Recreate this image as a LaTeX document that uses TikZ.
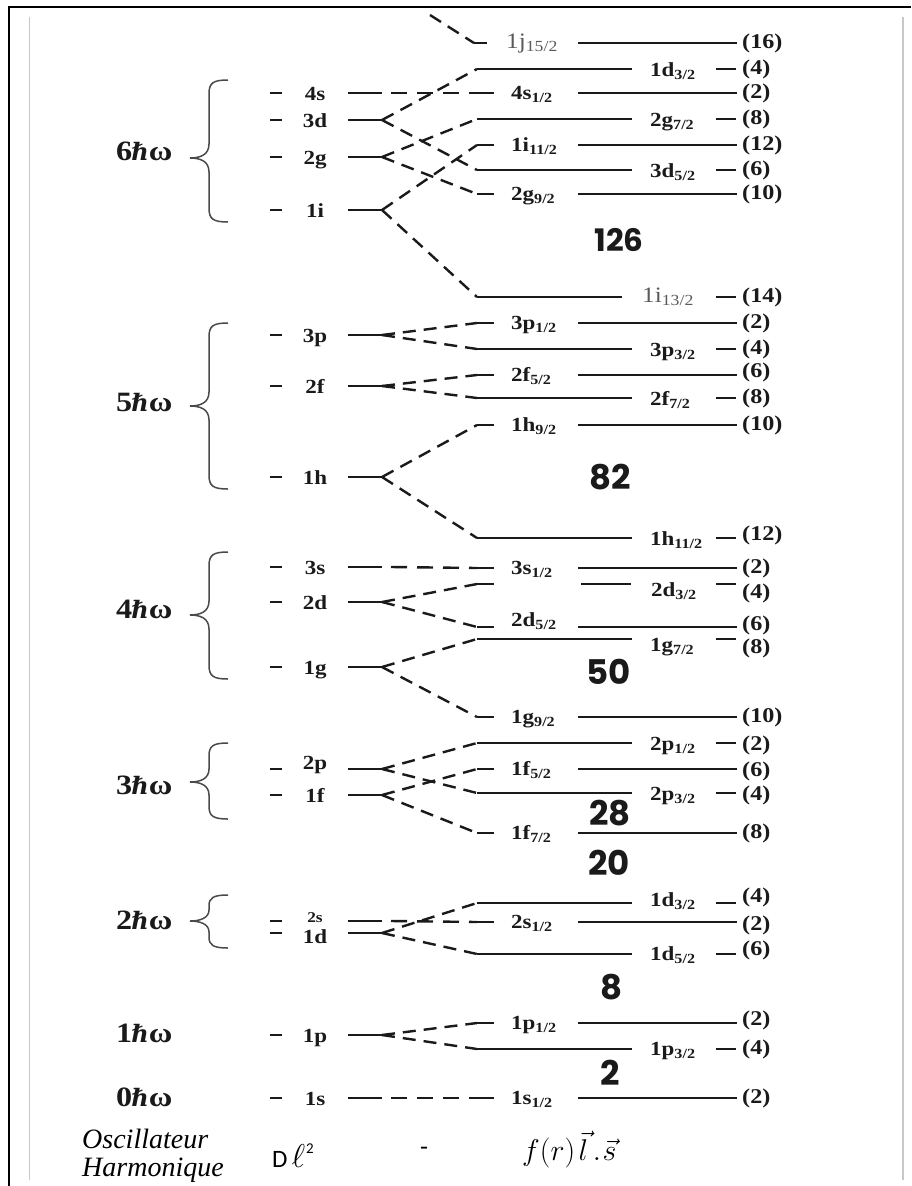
\documentclass[tikz,border=0pt]{standalone}
\usepackage{fix-cm}
\usepackage{fontspec}
\setmainfont{Liberation Serif}[FakeStretch=1.15]
\newfontfamily\plainserif{Liberation Serif}
\newfontfamily\hbarfont{DejaVu Serif}
\newfontfamily\magicfont{Poppins}
\newfontfamily\carl{Carlito}
\definecolor{ink}{HTML}{1A1A1A}
\definecolor{graytxt}{HTML}{5A5A5A}
\definecolor{framegray}{HTML}{C8C8C8}
\definecolor{bracegray}{HTML}{4A4A4A}
\tikzset{
  lvl/.style={line width=2.8pt, draw=ink},
  tail/.style={line width=2.4pt, draw=ink},
  dsh/.style={line width=2.4pt, draw=ink, dash pattern=on 13pt off 8pt},
  sdsh/.style={line width=2.4pt, draw=ink, dash pattern=on 16pt off 10pt},
  rl/.style={anchor=base west, inner sep=0pt, text=ink, font=\fontsize{20}{20}\selectfont\bfseries},
  nl/.style={anchor=west, inner sep=0pt, text=ink, font=\fontsize{21}{21}\selectfont\bfseries},
  ll/.style={anchor=base, inner sep=0pt, text=ink, font=\fontsize{20}{20}\selectfont\bfseries},
  bigl/.style={anchor=base west, inner sep=0pt, text=graytxt, font=\fontsize{22}{22}\selectfont},
  magic/.style={inner sep=0pt, text=ink, font=\fontsize{34}{34}\selectfont\magicfont\bfseries},
  hwlab/.style={anchor=base west, inner sep=0pt, text=ink, font=\fontsize{28}{28}\selectfont\bfseries},
  caption/.style={anchor=base west, inner sep=0pt, font=\plainserif\itshape\fontsize{28}{28}\selectfont},
  brc/.style={line width=1.5pt, draw=bracegray},
}
\newcommand\lv[2]{#1\textsubscript{#2}}
\newcommand\hw[1]{#1\kern-1pt{\hbarfont\bfseries\fontsize{24}{24}\selectfont ℏ}ω}
% left level: name, y, label, label baseline
\newcommand\lft[4]{%
  \draw[lvl] (270,#2) -- (282,#2);
  \node[ll] (#1-t) at (315,#4) {#3};
  \draw[lvl] (348,#2) -- (382,#2) coordinate (#1);
}
% right level, line on the left: name, y, label, label baseline, n, n centre
\newcommand\lvA[6]{%
  \draw[lvl] (477,#2) coordinate (#1) -- (632,#2);
  \node[rl] (#1-t) at (650,#4) {#3};
  \draw[lvl] (716,#2) -- (736,#2);
  \node[nl] (#1-n) at (742,#6) {(#5)};
}
% right level, label on the left
\newcommand\lvB[6]{%
  \coordinate (#1) at (477,#2);
  \draw[tail] (#1) -- (494,#2);
  \node[rl] (#1-t) at (511,#4) {#3};
  \draw[lvl] (578,#2) -- (737,#2);
  \node[nl] (#1-n) at (742,#6) {(#5)};
}
% brace: top, tip, bottom, radius
\newcommand\curly[4]{%
  \draw[brc] (228,#1) .. controls (213,#1) and (209,{#1+3}) .. (209,{#1+#4})
    -- (209,{#2-#4}) .. controls (209,{#2-3}) and (200,#2) .. (190,#2)
    .. controls (200,#2) and (209,{#2+3}) .. (209,{#2+#4})
    -- (209,{#3-#4}) .. controls (209,{#3-3}) and (213,#3) .. (228,#3);
}
\begin{document}
\begin{tikzpicture}[x=1pt,y=-1pt]
\useasboundingbox (0,0) rectangle (911,1186);
% frame
\draw[line width=2.6pt, draw=black] (9,1186) -- (9,7) -- (911,7);
\draw[framegray, line width=1.2pt] (29.5,17) -- (29.5,1180);
\draw[framegray, line width=1.2pt] (903,17) -- (903,1180);

% ---------- 6 hbar omega ----------
\node[hwlab] (hw6) at (116,160) {\hw{6}};
\curly{80}{158}{222}{14}
\lft{L4s}{93}{4s}{100}
\lft{L3d}{120}{3d}{127}
\lft{L2g}{157}{2g}{164}
\lft{L1i}{210}{1i}{217}

\coordinate (a1j152) at (474,43);
\draw[tail] (a1j152) -- (487,43);
\node[bigl] (a1j152-t) at (506,48) {\lv{1j}{15/2}};
\draw[lvl] (578,43) -- (737,43);
\node[nl] (a1j152-n) at (742,43) {(16)};
\coordinate (in1j) at (430,15);

\lvA{a1d32}{69}{\lv{1d}{3/2}}{76}{4}{69}
\lvB{a4s12}{93}{\lv{4s}{1/2}}{99}{2}{93}
\lvA{a2g72}{119}{\lv{2g}{7/2}}{126}{8}{119}
\lvB{a1i112}{145}{\lv{1i}{11/2}}{151}{12}{145}
\lvA{a3d52}{170}{\lv{3d}{5/2}}{177}{6}{170}
\lvB{a2g92}{194}{\lv{2g}{9/2}}{200}{10}{194}

\draw[lvl] (477,297) coordinate (a1i132) -- (622,297);
\node[bigl] (a1i132-t) at (642,302) {\lv{1i}{13/2}};
\draw[lvl] (716,297) -- (736,297);
\node[nl] (a1i132-n) at (742,297) {(14)};

\draw[dsh] (in1j) -- (a1j152);
\draw[sdsh] ([xshift=9pt]L4s) -- (a4s12);
\draw[dsh] (L3d) -- (a1d32);
\draw[dsh] (L3d) -- (a3d52);
\draw[dsh] (L2g) -- (a2g72);
\draw[dsh] (L2g) -- (a2g92);
\draw[dsh] (L1i) -- (a1i112);
\draw[dsh] (L1i) -- (a1i132);
\node[magic, font=\fontsize{31}{31}\selectfont\magicfont\bfseries] (m126) at (619,240) {126};

% ---------- 5 hbar omega ----------
\node[hwlab] (hw5) at (116,411) {\hw{5}};
\curly{323}{406}{489}{14}
\lft{L3p}{335}{3p}{342}
\lft{L2f}{386}{2f}{393}
\lft{L1h}{477}{1h}{484}
\lvB{b3p12}{323}{\lv{3p}{1/2}}{329}{2}{323}
\lvA{b3p32}{349}{\lv{3p}{3/2}}{356}{4}{349}
\lvB{b2f52}{375}{\lv{2f}{5/2}}{381}{6}{372}
\lvA{b2f72}{398}{\lv{2f}{7/2}}{405}{8}{398}
\lvB{b1h92}{425}{\lv{1h}{9/2}}{431}{10}{425}
\lvA{b1h112}{538}{\lv{1h}{11/2}}{545}{12}{535}
\draw[dsh] (L3p) -- (b3p12);
\draw[dsh] (L3p) -- (b3p32);
\draw[dsh] (L2f) -- (b2f52);
\draw[dsh] (L2f) -- (b2f72);
\draw[dsh] (L1h) -- (b1h92);
\draw[dsh] (L1h) -- (b1h112);
\node[magic] (m82) at (610,477) {82};

% ---------- 4 hbar omega ----------
\node[hwlab] (hw4) at (116,618) {\hw{4}};
\curly{552}{615}{679}{14}
\lft{L3s}{567}{3s}{574}
\lft{L2d}{602}{2d}{609}
\lft{L1g}{667}{1g}{674}
\lvB{c3s12}{568}{\lv{3s}{1/2}}{574}{2}{568}
\coordinate (c2d32) at (477,584);
\draw[tail] (c2d32) -- (494,584);
\draw[lvl] (581,584) -- (631,584);
\node[rl] (c2d32-t) at (651,596) {\lv{2d}{3/2}};
\draw[lvl] (716,584) -- (736,584);
\node[nl] (c2d32-n) at (742,593) {(4)};
\lvB{c2d52}{627}{\lv{2d}{5/2}}{626}{6}{625}
\lvA{c1g72}{639}{\lv{1g}{7/2}}{651}{8}{648}
\lvB{c1g92}{717}{\lv{1g}{9/2}}{723}{10}{717}
\draw[sdsh] ([xshift=9pt]L3s) -- (c3s12);
\draw[dsh] (L2d) -- (c2d32);
\draw[dsh] (L2d) -- (c2d52);
\draw[dsh] (L1g) -- (c1g72);
\draw[dsh] (L1g) -- (c1g92);
\node[magic] (m50) at (609,672) {50};

% ---------- 3 hbar omega ----------
\node[hwlab] (hw3) at (116,794) {\hw{3}};
\curly{743}{782}{819}{13}
\lft{L2p}{769}{2p}{769}
\lft{L1f}{795}{1f}{802}
\lvA{d2p12}{743}{\lv{2p}{1/2}}{750}{2}{745}
\lvB{d1f52}{769}{\lv{1f}{5/2}}{775}{6}{771}
\lvA{d2p32}{793}{\lv{2p}{3/2}}{800}{4}{795}
\lvB{d1f72}{833}{\lv{1f}{7/2}}{839}{8}{833}
\draw[dsh] (L2p) -- (d2p12);
\draw[dsh] (L2p) -- (d2p32);
\draw[dsh] (L1f) -- (d1f52);
\draw[dsh] (L1f) -- (d1f72);
\node[magic] (m28) at (610,813) {28};
\node[magic] (m20) at (609,863) {20};

% ---------- 2 hbar omega ----------
\node[hwlab] (hw2) at (116,929) {\hw{2}};
\curly{895}{921}{948}{11}
\draw[lvl] (270,921) -- (282,921);
\node[ll, font=\fontsize{15}{15}\selectfont\bfseries] (L2s-t) at (315,922) {2s};
\draw[lvl] (348,921) -- (382,921) coordinate (L2s);
\lft{L1d}{933}{1d}{943}
\lvA{e1d32}{903}{\lv{1d}{3/2}}{906}{4}{897}
\lvB{e2s12}{922}{\lv{2s}{1/2}}{928}{2}{925}
\lvA{e1d52}{954}{\lv{1d}{5/2}}{960}{6}{950}
\draw[sdsh] ([xshift=9pt]L2s) -- (e2s12);
\draw[dsh] (L1d) -- (e1d32);
\draw[dsh] (L1d) -- (e1d52);
\node[magic] (m8) at (612,987) {8};

% ---------- 1 hbar omega ----------
\node[hwlab] (hw1) at (116,1042) {\hw{1}};
\lft{L1p}{1035}{1p}{1042}
\lvB{f1p12}{1023}{\lv{1p}{1/2}}{1029}{2}{1020}
\lvA{f1p32}{1049}{\lv{1p}{3/2}}{1055}{4}{1049}
\draw[dsh] (L1p) -- (f1p12);
\draw[dsh] (L1p) -- (f1p32);
\node[magic] (m2) at (610,1073) {2};

% ---------- 0 hbar omega ----------
\node[hwlab] (hw0) at (116,1106) {\hw{0}};
\lft{L1s}{1098}{1s}{1105}
\lvB{g1s12}{1098}{\lv{1s}{1/2}}{1104}{2}{1098}
\draw[sdsh] ([xshift=9pt]L1s) -- (g1s12);

% ---------- bottom captions ----------
\node[caption] (osc) at (82,1148) {Oscillateur};
\node[caption] (harm) at (82,1176) {Harmonique};
\node[anchor=base west, inner sep=0pt] (dl2) at (272,1167) {{\carl\fontsize{25}{25}\selectfont D}\hspace{4pt}{\fontsize{33}{33}\selectfont$\ell$}\hspace{1pt}\raisebox{14pt}{\carl\fontsize{15}{15}\selectfont 2}};
\node[inner sep=0pt, font=\carl\fontsize{26}{26}\selectfont] (minus) at (424,1151) {-};
\node[anchor=base west, inner sep=0pt, font=\fontsize{30}{30}\selectfont] (fls) at (522,1160) {$f(r)\mkern2mu\vec{l}\mkern3mu.\mkern1mu\vec{s}$};
\end{tikzpicture}
\end{document}
